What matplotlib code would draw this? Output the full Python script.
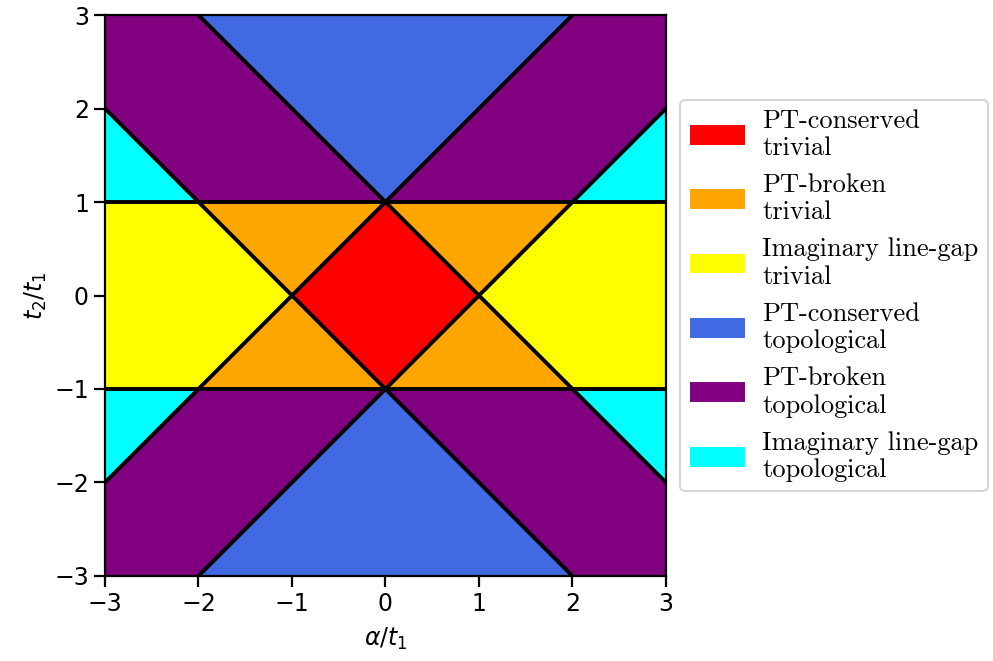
import numpy as np
import matplotlib
matplotlib.use("Agg")
import matplotlib.pyplot as plt
from matplotlib.colors import ListedColormap
from matplotlib.patches import Patch

# phase labels and colours, in phase-index order
phase_labels = [
    "PT-conserved\ntrivial",
    "PT-broken\ntrivial",
    "Imaginary line-gap\ntrivial",
    "PT-conserved\ntopological",
    "PT-broken\ntopological",
    "Imaginary line-gap\ntopological",
]
phase_colors = ["red", "orange", "yellow", "royalblue", "purple", "cyan"]

# phase boundaries: horizontal lines t2/t1 = +-1 and diagonals t2 = s*alpha + c
hline_levels = [-1, 1]
diag_slopes = [1, 1, -1, -1]
diag_offsets = [1, -1, 1, -1]

ticks = [-3, -2, -1, 0, 1, 2, 3]
lim = 3


def phase(a, t):
    ax_, at = np.abs(a), np.abs(t)
    p = np.zeros_like(a, dtype=int)
    inner = at < 1
    p[inner & (ax_ + at < 1)] = 0
    p[inner & (ax_ + at >= 1) & (ax_ - at < 1)] = 1
    p[inner & (ax_ - at >= 1)] = 2
    outer = ~inner
    p[outer & (at - ax_ >= 1)] = 3
    p[outer & (np.abs(ax_ - at) < 1)] = 4
    p[outer & (ax_ - at >= 1)] = 5
    return p


n = 1500
a = np.linspace(-lim, lim, n)
t = np.linspace(-lim, lim, n)
A, T = np.meshgrid(a, t)
P = phase(A, T)

fig = plt.figure(figsize=(9.93, 6.61), dpi=100)
ax = fig.add_axes([0.1057, 0.1286, 0.565, 0.8487])

ax.imshow(P, extent=[-lim, lim, -lim, lim], origin="lower",
          cmap=ListedColormap(phase_colors), vmin=-0.5, vmax=5.5,
          interpolation="nearest", aspect="auto")

for y0 in hline_levels:
    ax.axhline(y0, color="black", lw=2.8)
xs = np.array([-lim, lim])
for s, c in zip(diag_slopes, diag_offsets):
    ax.plot(xs, s * xs + c, color="black", lw=2.8)

ax.set_xlim(-lim, lim)
ax.set_ylim(-lim, lim)
ax.set_xticks(ticks)
ax.set_yticks(ticks)
ax.tick_params(labelsize=17, width=1.6, length=8)
for sp in ax.spines.values():
    sp.set_linewidth(1.6)
ax.set_xlabel(r"$\alpha/t_1$", fontsize=17, labelpad=7)
ax.set_ylabel(r"$t_2/t_1$", fontsize=17, labelpad=4)

handles = [Patch(facecolor=c, label=l) for c, l in zip(phase_colors, phase_labels)]
leg = ax.legend(handles=handles, loc="center left", bbox_to_anchor=(1.002, 0.5),
                prop={"family": "cmr10", "size": 19.0}, handlelength=2.1,
                handleheight=0.78, labelspacing=0.5, borderpad=0.35,
                handletextpad=0.65, frameon=True)
leg.get_frame().set_linewidth(1.5)

fig.savefig("out.png", dpi=100)
